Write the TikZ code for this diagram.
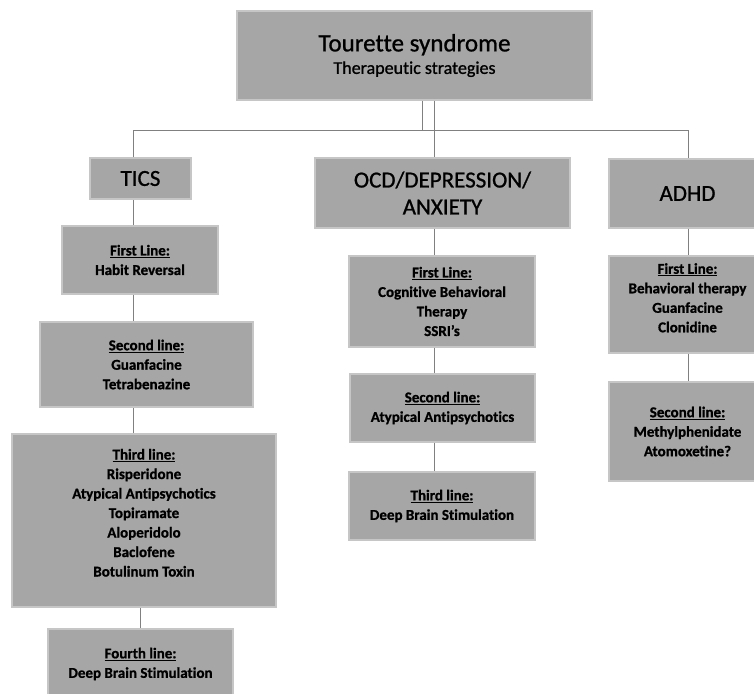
\documentclass[tikz,border=0pt]{standalone}
\usepackage{fontspec}
\setmainfont{Carlito}[Ligatures=NoCommon, FakeBold=0.9]
\usetikzlibrary{positioning,calc}
\definecolor{boxfill}{HTML}{A6A6A6}
\definecolor{boxedge}{HTML}{C6C6C6}
\definecolor{linkgray}{HTML}{808080}
\tikzset{
	basic/.style={
			draw=boxedge,
			line width=1.5pt,
			fill=boxfill,
			align=center,
			inner sep=2pt,
			font=\fontsize{15}{19.5}\selectfont\bfseries
		},
	head/.style={basic, font=\fontsize{23}{27}\selectfont},
	link/.style={draw=linkgray, line width=1pt}
}
\newcommand{\stage}[1]{\underline{#1}}

\begin{document}
\begin{tikzpicture}[x=1pt,y=-1pt]
			\useasboundingbox (0,0) rectangle (754,693);

			\node[basic, minimum width=355pt, minimum height=89pt] at (414.5,55.5) (top) {{\fontsize{25}{30}\selectfont\mdseries Tourette syndrome}\\[3pt]
				{\fontsize{18}{22}\selectfont\mdseries Therapeutic strategies}};

			% main groups
			\node[head, minimum width=101pt, minimum height=41pt] at (140.5,178.5) (tics) {TICS};
			\node[head, minimum width=255pt, minimum height=70pt] at (442.5,193) (ocd) {OCD/DEPRESSION/\\ANXIETY};
			\node[head, minimum width=157pt, minimum height=69pt] at (687.5,193.5) (adhd) {ADHD};

			\node[basic, minimum width=156pt, minimum height=68pt] at (140,260) (tics1) {\stage{First Line:}\\
				Habit Reversal};
			\node[basic, minimum width=213pt, minimum height=85pt] at (146.5,364.5) (tics2) {\stage{Second line:}\\
				Guanfacine\\
				Tetrabenazine};
			\node[basic, minimum width=264pt, minimum height=173pt] at (144,520.5) (tics3) {\stage{Third line:}\\
				Risperidone\\
				Atypical Antipsychotics\\
				Topiramate\\
				Aloperidolo\\
				Baclofene\\
				Botulinum Toxin\\[-4pt]};
			\node[basic, minimum width=185pt, minimum height=70pt] at (140.5,664) (tics4) {\stage{Fourth line:}\\
				Deep Brain Stimulation};

			\node[basic, minimum width=186pt, minimum height=91pt] at (442,301.5) (ocd1) {\stage{First Line:}\\
				Cognitive Behavioral\\
				Therapy\\
				SSRI’s};
			\node[basic, minimum width=185pt, minimum height=68pt] at (442.5,408) (ocd2) {\stage{Second line:}\\
				Atypical Antipsychotics};
			\node[basic, minimum width=186pt, minimum height=68pt] at (442,506) (ocd3) {\stage{Third line:}\\
				Deep Brain Stimulation};

			\node[basic, minimum width=157pt, minimum height=97pt] at (687.5,304.5) (adhd1) {\stage{First Line:}\\
				Behavioral therapy\\
				Guanfacine\\
				Clonidine\\[-6pt]};
			\node[basic, minimum width=157pt, minimum height=99pt] at (687.5,431.5) (adhd2) {\stage{Second line:}\\
				Methylphenidate\\
				Atomoxetine?};

			% bus
			\coordinate (busL) at (133,130);
			\coordinate (busR) at (688,130);
			\coordinate (stemA) at (422,130);
			\coordinate (stemB) at (434,130);
			\draw[link] (top.south -| stemA) -- (stemA);
			\draw[link] (top.south -| stemB) -- (ocd.north -| stemB);
			\draw[link] (busL |- tics.north) -- (busL) -- (busR) -- (busR |- adhd.north);

			\draw[link] (tics.south -| busL) -- (tics1.north -| busL);
			\draw[link] (tics1.south -| busL) -- (tics2.north -| busL);
			\draw[link] (tics2.south -| busL) -- (tics3.north -| busL);
			\draw[link] (tics3.south -| tics4.north) -- (tics4.north);

			\draw[link] (ocd.south -| stemB) -- (ocd1.north -| stemB);
			\draw[link] (ocd1.south -| stemB) -- (ocd2.north -| stemB);
			\draw[link] (ocd2.south -| stemB) -- (ocd3.north -| stemB);

			\draw[link] (adhd.south -| busR) -- (adhd1.north -| busR);
			\draw[link] (adhd1.south -| busR) -- (adhd2.north -| busR);
\end{tikzpicture}
\end{document}
